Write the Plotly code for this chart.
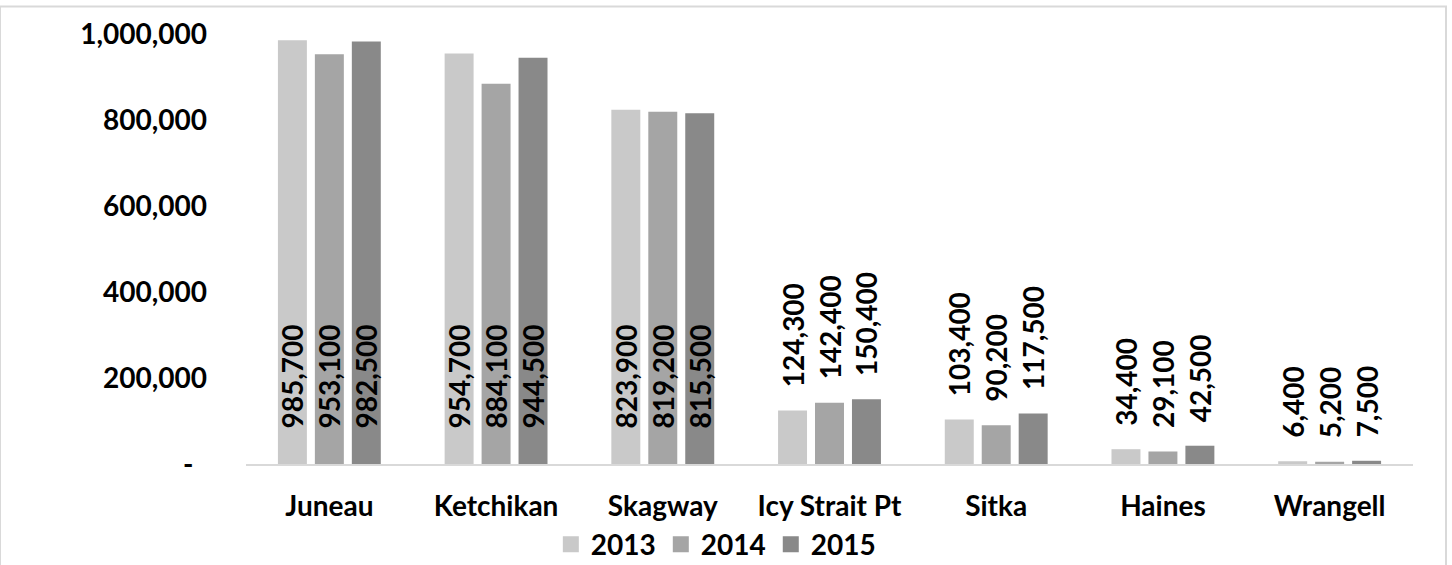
import plotly.graph_objects as go

ports = ["Juneau", "Ketchikan", "Skagway", "Icy Strait Pt", "Sitka", "Haines", "Wrangell"]
years = ["2013", "2014", "2015"]
passengers_2013 = [985700, 954700, 823900, 124300, 103400, 34400, 6400]
passengers_2014 = [953100, 884100, 819200, 142400, 90200, 29100, 5200]
passengers_2015 = [982500, 944500, 815500, 150400, 117500, 42500, 7500]
y_ticks = [0, 200000, 400000, 600000, 800000, 1000000]
y_tick_text = ["-\u00a0\u00a0", "200,000", "400,000", "600,000", "800,000", "1,000,000"]

colors = ["#c9c9c9", "#a5a5a5", "#898989"]
FONT = "Lato"
FS = 28
PAD_IN = "\u2007\u2007"   # lifts the labels off the bar base
PAD_OUT = "\u00a0" * 3    # gap between bar top and label

fig = go.Figure()
for name, vals, col in zip(years, [passengers_2013, passengers_2014, passengers_2015], colors):
    # big bars carry their label inside at the base, small bars above the bar
    positions = ["inside" if v > 500000 else "outside" for v in vals]
    labels = [(PAD_IN if v > 500000 else PAD_OUT) + f"{v:,}" for v in vals]
    fig.add_trace(go.Bar(
        x=ports, y=vals, name=name, marker_color=col, marker_line_width=0,
        text=labels, textposition=positions,
        insidetextanchor="start", textangle=-90, constraintext="none",
        textfont=dict(family=FONT, size=FS, color="black", weight="bold"),
        cliponaxis=False, showlegend=False,
    ))
    # legend entry with a larger square swatch
    fig.add_trace(go.Scatter(
        x=[None], y=[None], mode="markers", name=name,
        marker=dict(symbol="square", size=17, color=col),
    ))

fig.update_layout(
    width=1452, height=565,
    margin=dict(l=246, r=39, t=34, b=101, autoexpand=False),
    paper_bgcolor="white", plot_bgcolor="white",
    barmode="group", bargap=0.335, bargroupgap=0.216,
    font=dict(family=FONT, size=FS, color="black", weight="bold"),
    showlegend=True,
    legend=dict(orientation="h", xref="container", yref="container",
                x=0.493, xanchor="center", y=0.036, yanchor="middle",
                bgcolor="rgba(0,0,0,0)",
                font=dict(family=FONT, size=FS, color="black", weight="bold"),
                itemwidth=30, tracegroupgap=0),
    xaxis=dict(showline=True, linecolor="#d9d9d9", linewidth=2, ticks="",
               tickfont=dict(family=FONT, size=FS, color="black", weight="bold"),
               ticklabelstandoff=16),
    yaxis=dict(range=[0, 1000000], tickvals=y_ticks, ticktext=y_tick_text,
               showgrid=False, zeroline=False, showline=False, ticks="",
               tickfont=dict(family=FONT, size=FS, color="black", weight="bold"),
               ticklabelstandoff=38),
    shapes=[dict(type="rect", xref="paper", yref="paper",
                 x0=-246/1167, x1=(1446-246)/1167, y0=-1, y1=(565-6.5-101)/430,
                 line=dict(color="#d9d9d9", width=2), fillcolor="rgba(0,0,0,0)",
                 layer="below")],
)

fig.write_html("out.html")
